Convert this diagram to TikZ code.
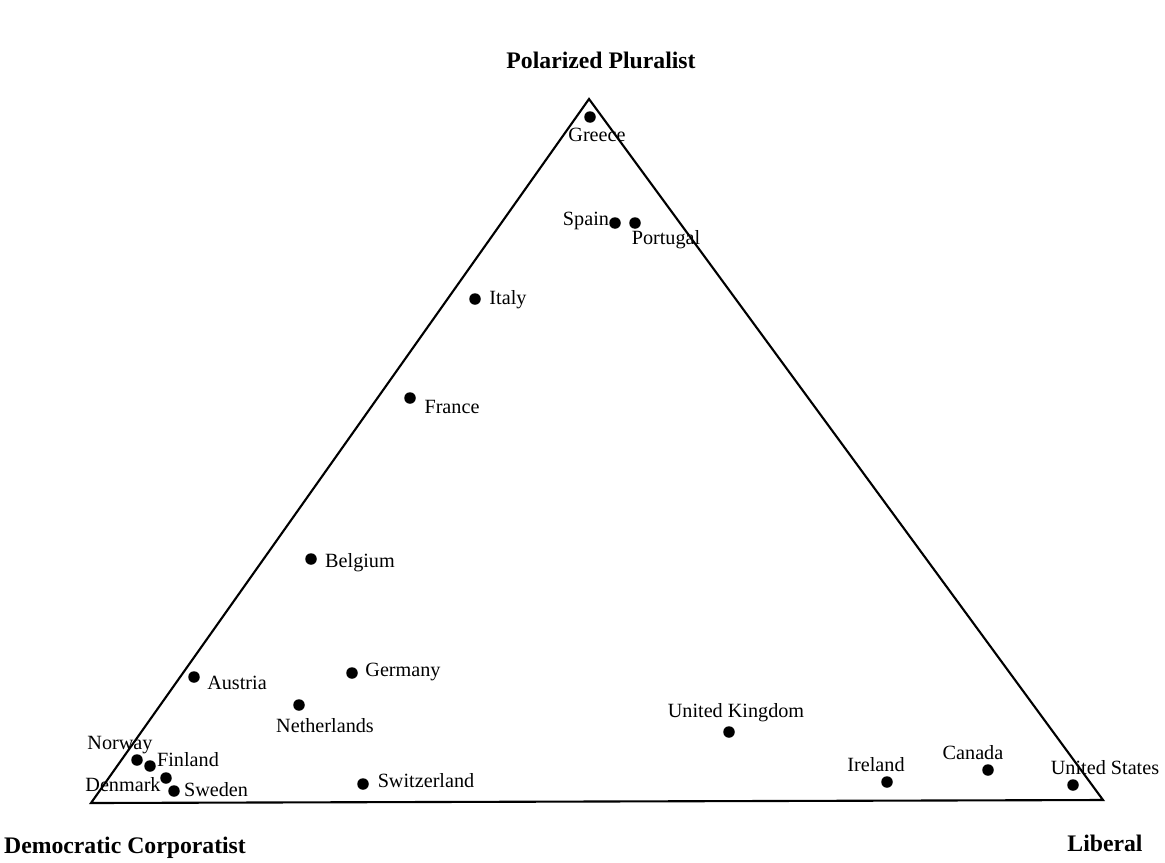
\documentclass[tikz,border=0pt]{standalone}
\usepackage{fontspec}
\setmainfont{Liberation Serif}
\usepackage{tikz}
\usetikzlibrary{positioning}

\begin{document}
\begin{tikzpicture}[x={(0.02cm,0)}, y={(0,-0.02cm)},
    dot/.style={circle, fill=black, inner sep=0pt, minimum size=0.23cm},
    lbl/.style={inner sep=0pt, font=\fontsize{11.5}{13}\selectfont},
    corner/.style={inner sep=0pt, font=\fontsize{13.5}{15}\selectfont\bfseries}]
\useasboundingbox (0,0) rectangle (1165,862);
% triangle
\coordinate (pp) at (589,99);
\coordinate (dc) at (91,803);
\coordinate (lib) at (1103,800);
\draw[line width=1.2pt, line join=miter] (pp) -- (lib) -- (dc) -- cycle;
% corner labels
\node[corner] (pp_l)  at (601,60)  {Polarized Pluralist};
\node[corner] (dc_l)  at (125,848) {Democratic Corporatist};
\node[corner] (lib_l) at (1105,843) {Liberal};
% southern europe
\node[dot] (greece)   at (590,117) {};
\node[lbl] (greece_l) at (597,135) {Greece};
\node[dot] (spain)    at (615,223) {};
\node[lbl] (spain_l)  at (586,221) {Spain};
\node[dot] (portugal) at (635,223) {};
\node[lbl] (portugal_l) at (666,240) {Portugal};
\node[dot] (italy)    at (475,299) {};
\node[lbl] (italy_l)  at (508,300) {Italy};
\node[dot] (france)   at (410,398) {};
\node[lbl] (france_l) at (452,407) {France};
% central europe
\node[dot] (belgium)  at (311,559) {};
\node[lbl] (belgium_l) at (360,563) {Belgium};
\node[dot] (austria)  at (194,677) {};
\node[lbl] (austria_l) at (237,683) {Austria};
\node[dot] (germany)  at (352,673) {};
\node[lbl] (germany_l) at (403,672) {Germany};
\node[dot] (netherlands) at (299,705) {};
\node[lbl] (netherlands_l) at (325,726) {Netherlands};
\node[dot] (switzerland) at (363,784) {};
\node[lbl] (switzerland_l) at (426,781) {Switzerland};
% nordic
\node[dot] (norway)   at (137,760) {};
\node[lbl] (norway_l) at (120,745) {Norway};
\node[dot] (finland)  at (150,766) {};
\node[lbl] (finland_l) at (188,760) {Finland};
\node[dot] (denmark)  at (166,778) {};
\node[lbl] (denmark_l) at (123,785) {Denmark};
\node[dot] (sweden)   at (174,791) {};
\node[lbl] (sweden_l) at (216,790) {Sweden};
% north atlantic
\node[dot] (uk)       at (729,732) {};
\node[lbl] (uk_l)     at (736,713) {United Kingdom};
\node[dot] (ireland)  at (887,782) {};
\node[lbl] (ireland_l) at (876,765) {Ireland};
\node[dot] (canada)   at (988,770) {};
\node[lbl] (canada_l) at (973,753) {Canada};
\node[dot] (usa)      at (1073,785) {};
\node[lbl] (usa_l)    at (1105,768) {United States};
\end{tikzpicture}
\end{document}
